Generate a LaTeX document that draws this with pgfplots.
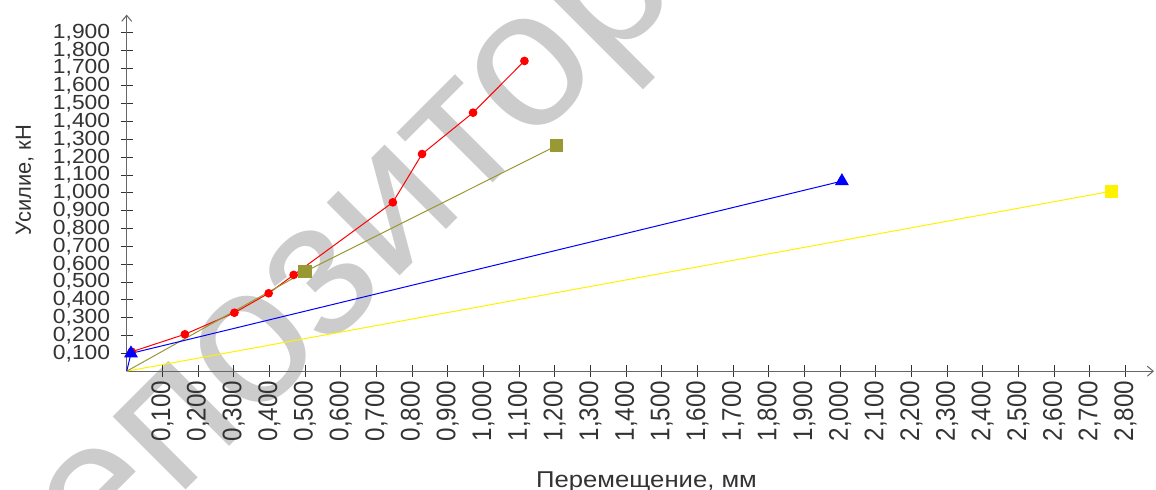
\documentclass[border=0pt]{standalone}
\usepackage{pgfplots}
\pgfplotsset{compat=1.18}
\usepackage{fontspec}
\setmainfont{Liberation Sans}
\newfontfamily\hfont{Liberation Sans}[FakeStretch=1.12]
\newfontfamily\vfont{Liberation Sans}[FakeStretch=0.9]
\usetikzlibrary{arrows.meta}
\definecolor{txt}{HTML}{333333}
\definecolor{axgray}{HTML}{666666}
\definecolor{olivec}{RGB}{153,153,51}
\definecolor{wm}{HTML}{CCCCCC}
\begin{document}
\begin{tikzpicture}
\path[use as bounding box] (0,0) rectangle (1156bp,490bp);
\clip (0,0) rectangle (1156bp,490bp);
\node[rotate=45, anchor=base, text=wm, font=\fontsize{196}{196}\selectfont, inner sep=0pt] at (430bp,244bp) {репозиторий};
\begin{axis}[
  at={(126.7bp,118.8bp)}, anchor=south west, scale only axis,
  width=1027.3bp, height=356.6bp,
  xmin=0, xmax=2.88, ymin=0, ymax=2.0,
  axis lines=left,
  axis line style={axgray, line width=1bp, -{Straight Barb[length=6bp,width=10bp]}},
  xtick={0.1,0.2,0.3,0.4,0.5,0.6,0.7,0.8,0.9,1.0,1.1,1.2,1.3,1.4,1.5,1.6,1.7,1.8,1.9,2.0,2.1,2.2,2.3,2.4,2.5,2.6,2.7,2.8},
  ytick={0.1,0.2,0.3,0.4,0.5,0.6,0.7,0.8,0.9,1.0,1.1,1.2,1.3,1.4,1.5,1.6,1.7,1.8,1.9},
  tick style={txt, line width=1bp},
  major tick length=12bp, tick align=center,
  /pgf/number format/.cd, fixed, fixed zerofill, precision=3, use comma, 1000 sep={}, assume math mode=true, /pgfplots/.cd,
  yticklabel style={font=\hfont\fontsize{20.5}{20}\selectfont, text=txt, xshift=-7bp},
  xticklabel style={font=\vfont\fontsize{27}{27}\selectfont, text=txt, rotate=90, anchor=east},
  xlabel={Перемещение, мм},
  xlabel style={font=\hfont\fontsize{23}{23}\selectfont, text=txt, at={(rel axis cs:0.506,0)}, anchor=base, yshift=-116.3bp},
  ylabel={Усилие, кН},
  ylabel style={font=\fontsize{22}{22}\selectfont, text=txt, at={(rel axis cs:-0.0993,0.536)}, anchor=center},
  clip=false,
]
\addplot[yellow, line width=1bp, mark=square*, mark size=6bp, mark indices={2}] coordinates {(0,0) (2.762,1.010)};
\addplot[red, line width=1bp, mark=*, mark size=3.8bp] coordinates {
  (0.014,0.109) (0.163,0.207) (0.302,0.328) (0.398,0.437) (0.468,0.540)
  (0.746,0.947) (0.828,1.218) (0.971,1.450) (1.115,1.740)};
\addplot[olivec, line width=1bp, mark=square*, mark size=6.2bp, mark indices={2,3}] coordinates {(0,0) (0.4996,0.558) (1.2055,1.265)};
\addplot[blue, line width=1bp, mark=triangle*, mark size=7bp, mark indices={2,3}] coordinates {(0,0) (0.012,0.100) (2.005,1.066)};
\end{axis}
\end{tikzpicture}
\end{document}
